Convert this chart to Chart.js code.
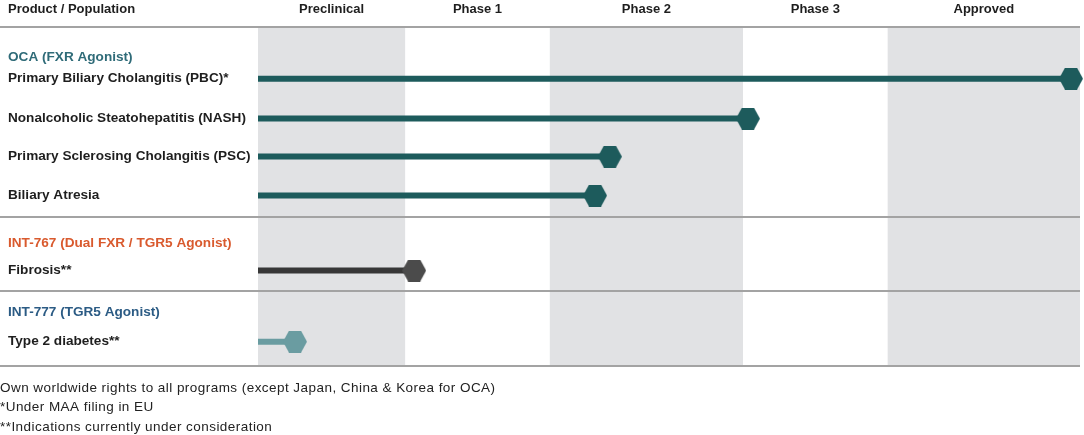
<!DOCTYPE html>
<html>
<head>
<meta charset="utf-8">
<script src="https://cdn.jsdelivr.net/npm/chart.js@4.4.1/dist/chart.umd.min.js"></script>
<style>
  html, body { margin: 0; padding: 0; background: #fff; overflow: hidden; }
  canvas { display: block; }
</style>
</head>
<body>
<canvas id="pipeline" width="1084" height="435"></canvas>
<script>
// phases along the x axis (0-100 scale of development progress)
const phases = ['Preclinical', 'Phase 1', 'Phase 2', 'Phase 3', 'Approved'];
const phaseEdges = [0, 17.9, 35.5, 59.0, 76.6, 100];
const shadedPhases = [0, 2, 4];

// product headers and their row slot
const products = ['OCA (FXR Agonist)', 'INT-767 (Dual FXR / TGR5 Agonist)', 'INT-777 (TGR5 Agonist)'];
const productSlots = [1.5, 11.05, 14.6];

// indications, their row slot and how far they got
const indications = [
    'Primary Biliary Cholangitis (PBC)*',
    'Nonalcoholic Steatohepatitis (NASH)',
    'Primary Sclerosing Cholangitis (PSC)',
    'Biliary Atresia',
    'Fibrosis**',
    'Type 2 diabetes**'
];
const indicationSlots = [2.6, 4.65, 6.6, 8.6, 12.45, 16.1];
const progress = [98.9, 59.6, 42.8, 41.0, 19.0, 4.5];
const indicationProduct = [0, 0, 0, 0, 1, 2];

// section dividers
const dividerSlots = [0, 9.75, 13.55, 17.4];

const footnotes = [
    'Own worldwide rights to all programs (except Japan, China & Korea for OCA)',
    '*Under MAA filing in EU',
    '**Indications currently under consideration'
];

const productColors = ['#2f6b78', '#d95a2e', '#2b5b84'];
const barColors = ['#1d5b5c', '#373737', '#6a9ca1'];
const hexColors = ['#1d5b5c', '#4b4b4b', '#6a9ca1'];

// hexagon marker, pointy left/right
function makeHex(color) {
    const c = document.createElement('canvas');
    c.width = 24; c.height = 22;
    const g = c.getContext('2d');
    g.fillStyle = color;
    g.beginPath();
    g.moveTo(0, 11);
    g.lineTo(6, 0);
    g.lineTo(18, 0);
    g.lineTo(24, 11);
    g.lineTo(18, 22);
    g.lineTo(6, 22);
    g.closePath();
    g.fill();
    return c;
}
const hexes = hexColors.map(makeHex);

const datasets = indications.map(function (name, i) {
    const p = indicationProduct[i];
    return {
        label: name,
        data: [{ x: 0, y: indicationSlots[i] }, { x: progress[i], y: indicationSlots[i] }],
        borderColor: barColors[p],
        borderWidth: 6,
        borderCapStyle: 'butt',
        showLine: true,
        pointRadius: function (ctx) { return ctx.dataIndex === 1 ? 11 : 0; },
        pointStyle: hexes[p],
        clip: false
    };
});

const FONT = 'Liberation Sans, Arial, Helvetica, sans-serif';

const pipelinePlugin = {
    id: 'pipeline',
    beforeDatasetsDraw: function (chart) {
        const g = chart.ctx;
        const x = chart.scales.x, y = chart.scales.y;
        const top = y.getPixelForValue(0), bottom = y.getPixelForValue(dividerSlots[dividerSlots.length - 1]);
        g.save();
        // shaded phase columns
        g.fillStyle = '#e1e2e4';
        shadedPhases.forEach(function (p) {
            const x0 = x.getPixelForValue(phaseEdges[p]);
            const x1 = x.getPixelForValue(phaseEdges[p + 1]);
            g.fillRect(x0, top, x1 - x0, bottom - top);
        });
        // dividers
        g.strokeStyle = '#a3a3a3';
        g.lineWidth = 2;
        dividerSlots.forEach(function (s) {
            const py = Math.round(y.getPixelForValue(s)) - 1;
            g.beginPath();
            g.moveTo(0, py);
            g.lineTo(x.getPixelForValue(100), py);
            g.stroke();
        });
        // column headers
        g.fillStyle = '#1e1e1e';
        g.font = 'bold 13px ' + FONT;
        g.textBaseline = 'middle';
        g.textAlign = 'left';
        g.fillText('Product / Population', 8, 9);
        g.textAlign = 'center';
        phases.forEach(function (ph, i) {
            const cx = (x.getPixelForValue(phaseEdges[i]) + x.getPixelForValue(phaseEdges[i + 1])) / 2;
            g.fillText(ph, cx, 9);
        });
        // row labels
        g.font = 'bold 13.6px ' + FONT;
        g.textAlign = 'left';
        products.forEach(function (p, i) {
            g.fillStyle = productColors[i];
            g.fillText(p, 8, y.getPixelForValue(productSlots[i]));
        });
        g.fillStyle = '#1e1e1e';
        indications.forEach(function (n, i) {
            g.fillText(n, 8, y.getPixelForValue(indicationSlots[i]));
        });
        // footnotes
        g.font = '13.5px ' + FONT;
        g.letterSpacing = '0.45px';
        g.fillStyle = '#222';
        footnotes.forEach(function (f, i) {
            g.fillText(f, 0, 388 + i * 19.5);
        });
        g.restore();
    }
};

new Chart(document.getElementById('pipeline').getContext('2d'), {
    type: 'scatter',
    data: { datasets: datasets },
    options: {
        responsive: false,
        animation: false,
        layout: { autoPadding: false, padding: { left: 258, right: 4, top: 28, bottom: 68 } },
        plugins: { legend: { display: false }, tooltip: { enabled: false } },
        scales: {
            x: { type: 'linear', min: 0, max: 100, display: false },
            y: { type: 'linear', min: 0, max: 17.4, reverse: true, display: false }
        }
    },
    plugins: [pipelinePlugin]
});
</script>
</body>
</html>
